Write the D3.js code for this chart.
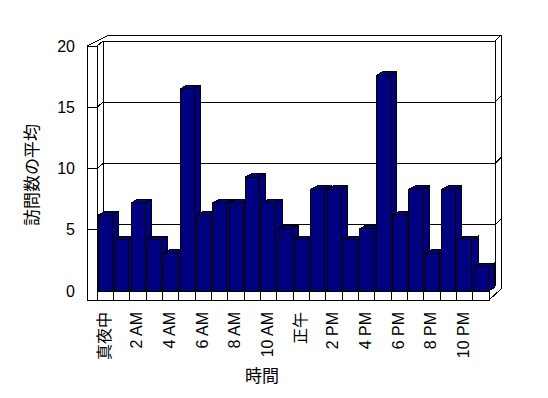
<!DOCTYPE html>
<html>
<head>
<meta charset="utf-8">
<script src="https://cdn.jsdelivr.net/npm/d3@7"></script>
<style>body{margin:0;background:#fff;}</style>
</head>
<body>
<div id="chart"></div>
<script>
// data
let hours = [0, 1, 2, 3, 4, 5, 6, 7, 8, 9, 10, 11, 12, 13, 14, 15, 16, 17, 18, 19, 20, 21, 22, 23];
let visits = [6.2, 4.2, 7.2, 4.2, 3.1, 16.5, 6.2, 7.2, 7.2, 9.3, 7.2, 5.1, 4.2, 8.3, 8.3, 4.2, 5.1, 17.6, 6.2, 8.3, 3.1, 8.3, 4.2, 2.0];
let hourLabels = ["真夜中", "2 AM", "4 AM", "6 AM", "8 AM", "10 AM", "正午", "2 PM", "4 PM", "6 PM", "8 PM", "10 PM"];
let yTicks = [0, 5, 10, 15, 20];

let w = 548; let h = 398;
let font = "'Liberation Sans', 'Noto Sans CJK JP', sans-serif";

let svg = d3.select("#chart").append("svg")
    .attr("width", w).attr("height", h)
    .attr("shape-rendering", "crispEdges");

//scales (front plane)
let x = d3.scaleBand().domain(hours).range([97, 489]);
let y = d3.scaleLinear().domain([0, 20]).range([291, 46]);

let dx = 6, dy = -5;     // front -> back wall
let tx = 6, ty = -6;     // back wall thickness
let bx = 6.5, by = -3.5; // bar depth
let left = 87, floorB = 300;
let x0 = x.range()[0], x1 = x.range()[1];

let walls = svg.append("g").attr("stroke", "black").attr("fill", "none");

function seg(a, b, c, d) {
    walls.append("line").attr("x1", a).attr("y1", b).attr("x2", c).attr("y2", d);
}

//left wall front strip
walls.append("rect").attr("x", left).attr("y", y(20))
    .attr("width", x0 - left).attr("height", floorB - y(20)).attr("fill", "white");

//top edges
seg(left, y(20), x0 + dx + tx, y(20) + dy + ty);
seg(x0, y(20), x0 + dx, y(20) + dy);
seg(x0 + dx + tx, y(20) + dy + ty, x1 + dx + tx, y(20) + dy + ty);
seg(x0 + dx, y(20) + dy, x1 + dx, y(20) + dy);
seg(x1 + dx, y(20) + dy, x1 + dx + tx, y(20) + dy + ty);

//back wall edges
seg(x0 + dx, y(20) + dy, x0 + dx, y(0) + dy);
seg(x1 + dx, y(20) + dy, x1 + dx, y(0) + dy);
seg(x1 + dx + tx, y(20) + dy + ty, x1 + dx + tx, floorB + dy + ty + 0);

//gridlines
yTicks.filter(v => v > 0 && v < 20).forEach(v => {
    seg(left, y(v), x0, y(v));
    seg(x0, y(v), x0 + dx, y(v) + dy);
    seg(x0 + dx, y(v) + dy, x1 + dx, y(v) + dy);
    seg(x1 + dx, y(v) + dy, x1 + dx + tx, y(v) + dy + ty);
});

//floor
walls.append("rect").attr("x", x0).attr("y", y(0))
    .attr("width", x1 - x0).attr("height", floorB - y(0)).attr("fill", "white");
seg(x1, y(0), x1 + dx, y(0) + dy);
seg(x1, floorB, x1 + dx + tx, floorB + dy + ty);
hours.forEach(d => {
    seg(x(d) + x.bandwidth(), y(0), x(d) + x.bandwidth(), floorB);
});

//bars
let bars = svg.append("g").attr("fill", "#000080").attr("stroke", "black");
hours.forEach((d, i) => {
    let a = x(d) + 1.5, b = a + x.bandwidth() - 2.5;
    let t = y(visits[i]), base = y(0);
    bars.append("path").attr("d", `M${a},${t}L${a + bx},${t + by}L${b + bx},${t + by}L${b},${t}Z`);
    bars.append("path").attr("d", `M${b},${t}L${b + bx},${t + by}L${b + bx},${base + by}L${b},${base}Z`);
    bars.append("rect").attr("x", a).attr("y", t).attr("width", b - a).attr("height", base - t);
});

//texts
svg.selectAll(".ytick").data(yTicks).enter().append("text")
    .attr("x", 75).attr("y", d => y(d))
    .attr("text-anchor", "end").attr("dominant-baseline", "central")
    .attr("font-family", font).attr("font-size", 16)
    .text(d => d);

svg.selectAll(".xtick").data(hourLabels).enter().append("text")
    .attr("transform", (d, i) => `translate(${x(hours[i * 2]) + x.bandwidth() / 2 - 1},312) rotate(-90)`)
    .attr("text-anchor", "end").attr("dominant-baseline", "central")
    .attr("font-family", font).attr("font-size", 16)
    .text(d => d);

svg.append("text")
    .attr("transform", "translate(32,175) rotate(-90)")
    .attr("text-anchor", "middle").attr("dominant-baseline", "central")
    .attr("font-family", font).attr("font-size", 17)
    .text("訪問数の平均");

svg.append("text")
    .attr("x", 262).attr("y", 376)
    .attr("text-anchor", "middle").attr("dominant-baseline", "central")
    .attr("font-family", font).attr("font-size", 17)
    .text("時間");
</script>
</body>
</html>
